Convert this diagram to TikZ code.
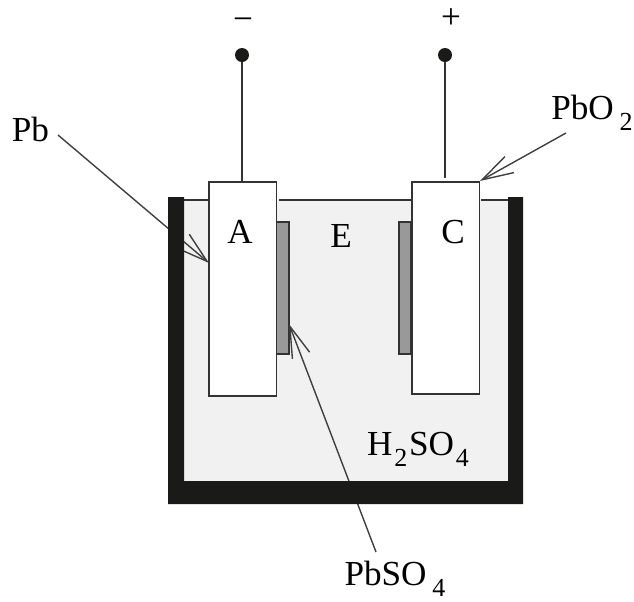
\documentclass[tikz,border=0pt]{standalone}
\usepackage{fontspec}
\setmainfont{Liberation Serif}
\usetikzlibrary{arrows.meta}
\definecolor{tankblack}{HTML}{1A1A18}
\definecolor{acidgray}{HTML}{F1F1F1}
\definecolor{plategray}{HTML}{999999}
\newcommand{\subnum}[1]{\raisebox{-0.32em}{\fontsize{18.5}{18.5}\selectfont #1}}
\tikzset{
    wire/.style={line width=1.15pt,draw=black!80},
    electrode/.style={draw=black!80,line width=1.15pt,fill=white,inner sep=0pt,minimum width=1.69cm},
    sulfate/.style={draw=black!80,line width=1.15pt,fill=plategray,inner sep=0pt,minimum width=0.31cm,minimum height=3.3cm},
    terminal/.style={circle,fill=tankblack,inner sep=0pt,minimum size=0.35cm},
    lbl/.style={inner sep=0pt,font=\fontsize{25}{28}\selectfont},
    pointer/.style={draw=black!75,line width=1pt,-{Straight Barb[length=0.78cm,width=0.46cm,line width=1pt]}}
}

\begin{document}
\begin{tikzpicture}[x=0.025cm,y=-0.025cm]
    \useasboundingbox (0,0) rectangle (634,601);

    % Acid
    \fill[acidgray] (184,200) rectangle (509,481);
    \draw[wire] (183,200) -- (209,200);
    \draw[wire] (279,200) -- (411,200);
    \draw[wire] (481,200) -- (509,200);

    % Sulfate layers
    \node[sulfate] (layerA) at (282.5,288) {};
    \node[sulfate] (layerC) at (405,288) {};

    % Pointers
    \coordinate (tailPb) at (58,135);
    \coordinate (tipPb) at (209,263);
    \coordinate (tailPbO) at (566,133);
    \coordinate (tipPbO) at (480,181);
    \coordinate (tailSulfate) at (376,552);
    \coordinate (tipSulfate) at (289,324);
    \draw[pointer] (tailPb) -- (tipPb);
    \draw[pointer] (tailPbO) -- (tipPbO);
    \draw[pointer] (tailSulfate) -- (tipSulfate);

    % Tank walls
    \fill[tankblack] (168,197) -- (184,197) -- (184,481) -- (508,481) -- (508,197)
        -- (523,197) -- (523,504) -- (168,504) -- cycle;

    % Electrodes
    \node[electrode,minimum height=5.35cm] (plateA) at (242.5,289) {};
    \node[electrode,minimum height=5.3cm] (plateC) at (445.5,288) {};

    % Terminals
    \node[terminal] (termA) at (242,55) {};
    \node[terminal] (termC) at (445,55) {};
    \coordinate (stubC) at (445,178);
    \draw[wire] (termA) -- (plateA.north -| termA);
    \draw[wire] (termC) -- (stubC);
    \node[lbl] (minus) at (243,24) {−};
    \node[lbl] (plus) at (451,19) {+};

    % Labels
    \node[lbl] (lblA) at (240,232) {A};
    \node[lbl] (lblE) at (341,236) {E};
    \node[lbl] (lblC) at (453,232) {C};
    \node[lbl] (lblPb) at (30.5,129) {Pb};
    \node[lbl] (lblPbO) at (592,113) {PbO\,\subnum{2}};
    \node[lbl] (lblAcid) at (418,449) {H\kern0.05em\subnum{2}\kern0.05em SO\kern0.05em\subnum{4}};
    \node[lbl] (lblSulfate) at (395,579) {PbSO\,\subnum{4}};
\end{tikzpicture}
\end{document}
